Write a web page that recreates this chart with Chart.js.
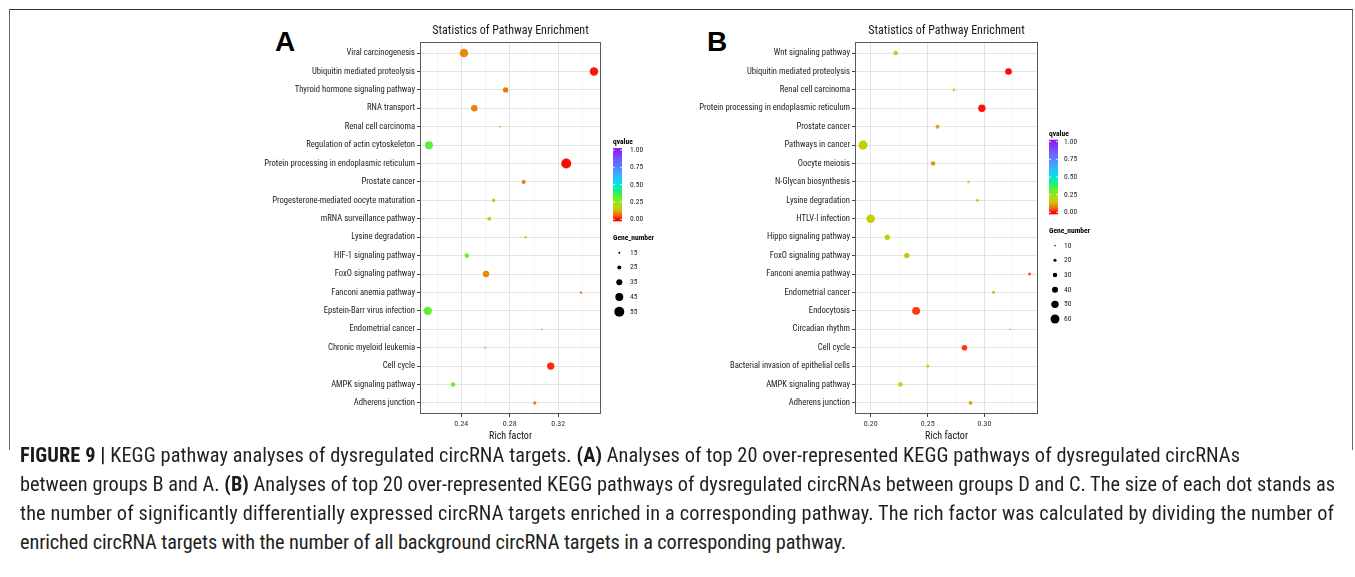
<!DOCTYPE html>
<html><head><meta charset="utf-8">
<script src="https://cdn.jsdelivr.net/npm/chart.js@4.4.1/dist/chart.umd.min.js"></script>
<style>
html,body{margin:0;padding:0;background:#fff;width:1355px;height:577px;overflow:hidden;}
#frame{position:absolute;left:9px;top:9px;width:1342px;height:440px;border:1px solid #666;border-top-color:#333;border-bottom:none;}
.cv{position:absolute;}
.panel{position:absolute;font-family:'Liberation Sans',Arial,sans-serif;font-weight:bold;font-size:28px;color:#000;line-height:1;}
#caption{position:absolute;left:20px;top:0;font-family:'Liberation Sans Narrow','Roboto Condensed','Liberation Sans',sans-serif;font-size:20px;color:#231f20;}
#caption .line{position:absolute;left:0;white-space:nowrap;line-height:1;}
#caption b{color:#1a1a1a;}
</style>
</head><body>
<div id="frame"></div>
<div class="panel" style="left:275px;top:28px;">A</div>
<div class="panel" style="left:707px;top:28px;">B</div>
<canvas id="cA" class="cv" width="440" height="432" style="left:255px;top:14px;width:440px;height:432px;"></canvas>
<canvas id="cB" class="cv" width="443" height="432" style="left:697px;top:14px;width:443px;height:432px;"></canvas>
<div id="caption">
<div class="line" data-w="1220" style="top:445px"><b>FIGURE 9 |</b> KEGG pathway analyses of dysregulated circRNA targets. <b>(A)</b> Analyses of top 20 over-represented KEGG pathways of dysregulated circRNAs</div>
<div class="line" data-w="1315" style="top:474px">between groups B and A. <b>(B)</b> Analyses of top 20 over-represented KEGG pathways of dysregulated circRNAs between groups D and C. The size of each dot stands as</div>
<div class="line" data-w="1313" style="top:503px">the number of significantly differentially expressed circRNA targets enriched in a corresponding pathway. The rich factor was calculated by dividing the number of</div>
<div class="line" data-w="826" style="top:532px">enriched circRNA targets with the number of all background circRNA targets in a corresponding pathway.</div>
</div>
<script>
// ---------------- DATA ----------------
const pathwaysA = ["Viral carcinogenesis","Ubiquitin mediated proteolysis","Thyroid hormone signaling pathway","RNA transport","Renal cell carcinoma","Regulation of actin cytoskeleton","Protein processing in endoplasmic reticulum","Prostate cancer","Progesterone-mediated oocyte maturation","mRNA surveillance pathway","Lysine degradation","HIF-1 signaling pathway","FoxO signaling pathway","Fanconi anemia pathway","Epstein-Barr virus infection","Endometrial cancer","Chronic myeloid leukemia","Cell cycle","AMPK signaling pathway","Adherens junction"];
const richA = [0.2422,0.3495,0.2766,0.2507,0.2719,0.2133,0.3266,0.2915,0.2667,0.2631,0.2931,0.2445,0.2604,0.3388,0.2123,0.3068,0.2596,0.3138,0.2332,0.3006];
const genesA = [48,47,32,38,15,45,55,25,23,25,17,28,37,17,47,14,16,42,28,22];
const qvalA = [0.09,0.01,0.075,0.085,0.28,0.33,0.005,0.075,0.24,0.24,0.28,0.30,0.085,0.075,0.32,0.25,0.30,0.02,0.30,0.085];
const xTicksA = [0.24,0.28,0.32];
const sizeKeysA = [15,25,35,45,55];

const pathwaysB = ["Wnt signaling pathway","Ubiquitin mediated proteolysis","Renal cell carcinoma","Protein processing in endoplasmic reticulum","Prostate cancer","Pathways in cancer","Oocyte meiosis","N-Glycan biosynthesis","Lysine degradation","HTLV-I infection","Hippo signaling pathway","FoxO signaling pathway","Fanconi anemia pathway","Endometrial cancer","Endocytosis","Circadian rhythm","Cell cycle","Bacterial invasion of epithelial cells","AMPK signaling pathway","Adherens junction"];
const richB = [0.2220,0.3211,0.2731,0.2977,0.2587,0.1932,0.2548,0.2859,0.2938,0.2000,0.2146,0.2317,0.3396,0.3079,0.2399,0.3226,0.2824,0.2502,0.2261,0.2877];
const genesB = [31,45,17,50,27,62,31,16,17,58,36,36,20,18,54,11,38,20,31,25];
const qvalB = [0.20,0.005,0.18,0.01,0.12,0.16,0.10,0.17,0.12,0.16,0.18,0.14,0.05,0.11,0.03,0.20,0.03,0.18,0.18,0.11];
const xTicksB = [0.20,0.25,0.30];
const sizeKeysB = [10,20,30,40,50,60];

const qKeys = [1.00,0.75,0.50,0.25,0.00];
const qStops = [[0,'#ff0000'],[0.03,'#ff3a10'],[0.06,'#f26a10'],[0.09,'#e88a0c'],[0.12,'#d8ae10'],[0.16,'#c4d000'],[0.22,'#a8dc20'],[0.30,'#70f020'],[0.40,'#20f070'],[0.50,'#00e8e0'],[0.62,'#30b8ff'],[0.75,'#5a80ff'],[0.88,'#7452ff'],[1,'#8a1ef0']];

// ---------------- HELPERS ----------------
function hex(c){return [parseInt(c.slice(1,3),16),parseInt(c.slice(3,5),16),parseInt(c.slice(5,7),16)];}
function qColor(q){
  for(let i=1;i<qStops.length;i++){
    if(q<=qStops[i][0]){
      const [q0,c0]=qStops[i-1],[q1,c1]=qStops[i];
      const t=(q-q0)/(q1-q0), a=hex(c0), b=hex(c1);
      return 'rgb('+a.map((v,k)=>Math.round(v+(b[k]-v)*t)).join(',')+')';
    }
  }
  return qStops[qStops.length-1][1];
}
const FONT="'Liberation Sans Narrow','Roboto Condensed','Liberation Sans',Arial,sans-serif";

function makePanel(id, o){
  const radius = n => o.r0 + (n - o.n0) * (o.r1 - o.r0) / (o.n1 - o.n0);
  const isMajor = v => o.majors.some(m => Math.abs(m - v) < 1e-6);
  const labelsPlugin = {
    id: 'deco',
    afterDraw(chart){
      const ctx = chart.ctx, a = chart.chartArea;
      ctx.save();
      ctx.strokeStyle = '#5a5a5a'; ctx.lineWidth = 1;
      ctx.strokeRect(Math.round(a.left)+0.5, Math.round(a.top)+0.5, Math.round(a.right-a.left)-1, Math.round(a.bottom-a.top)-1);
      ctx.fillStyle = '#1a1a1a';
      ctx.font = '12px ' + FONT;
      ctx.textAlign = 'center'; ctx.textBaseline = 'middle';
      ctx.fillText('Statistics of Pathway Enrichment', (a.left + a.right)/2, a.top - 11);
      const L = o.legend;
      ctx.textAlign = 'left';
      ctx.font = 'bold 7.5px ' + FONT;
      ctx.fillStyle = '#000';
      ctx.fillText('qvalue', L.x, L.qTitleY);
      const g = ctx.createLinearGradient(0, L.barBottom, 0, L.barTop);
      qStops.forEach(s => g.addColorStop(s[0], s[1]));
      ctx.fillStyle = g;
      ctx.fillRect(L.x, L.barTop - 2, L.barW, L.barBottom - L.barTop + 4);
      ctx.font = '7.5px ' + FONT;
      qKeys.forEach(q => {
        const y = L.barBottom + (L.barTop - L.barBottom) * q;
        ctx.strokeStyle = '#fff'; ctx.lineWidth = 0.8;
        ctx.beginPath(); ctx.moveTo(L.x, y); ctx.lineTo(L.x + 2, y);
        ctx.moveTo(L.x + L.barW - 2, y); ctx.lineTo(L.x + L.barW, y); ctx.stroke();
        ctx.fillStyle = '#1a1a1a';
        ctx.fillText(q.toFixed(2), L.textX, y);
      });
      ctx.font = 'bold 7.5px ' + FONT;
      ctx.fillStyle = '#000';
      ctx.fillText('Gene_number', L.x, L.sTitleY);
      ctx.font = '7.5px ' + FONT;
      o.sizeKeys.forEach((n, i) => {
        const y = L.sFirstY + i * L.sStep;
        ctx.fillStyle = '#000';
        ctx.beginPath(); ctx.arc(L.dotX, y, radius(n), 0, Math.PI*2); ctx.fill();
        ctx.fillStyle = '#1a1a1a';
        ctx.fillText(String(n), L.textX, y);
      });
      ctx.restore();
    }
  };
  return new Chart(document.getElementById(id), {
    type: 'scatter',
    data: { datasets: [{
      data: o.rich.map((x, i) => ({x: x, y: i})),
      pointRadius: c => radius(o.genes[c.dataIndex]),
      pointHoverRadius: c => radius(o.genes[c.dataIndex]),
      backgroundColor: c => qColor(o.q[c.dataIndex]),
      borderWidth: 0
    }]},
    options: {
      responsive: false, animation: false, devicePixelRatio: 1,
      events: [],
      layout: { padding: { left: 0, right: o.padRight, top: 28, bottom: 0 } },
      plugins: { legend: { display: false }, tooltip: { enabled: false } },
      scales: {
        x: {
          type: 'linear', min: o.xmin, max: o.xmax,
          afterFit: s => { s.height = 32; },
          border: { display: false },
          grid: {
            color: c => isMajor(c.tick.value) ? '#e3e3e3' : '#f1f1f1',
            lineWidth: c => isMajor(c.tick.value) ? 1 : 0.7,
            tickColor: c => isMajor(c.tick.value) ? '#444' : 'rgba(0,0,0,0)',
            tickLength: 3, drawTicks: true
          },
          ticks: {
            stepSize: o.minorStep, includeBounds: false, autoSkip: false, maxRotation: 0,
            padding: 2, color: '#333', font: { family: FONT, size: 8 },
            callback: v => isMajor(v) ? v.toFixed(2) : ''
          },
          title: { display: true, text: 'Rich factor', color: '#111', font: { family: FONT, size: 10 }, padding: { top: 0, bottom: 4 } }
        },
        y: {
          type: 'linear', min: -0.6, max: o.rich.length - 0.4, reverse: true,
          afterFit: s => { s.width = o.yWidth; },
          border: { display: false },
          grid: { color: '#e3e3e3', lineWidth: 1, tickColor: '#444', tickLength: 3 },
          ticks: {
            stepSize: 1, includeBounds: false, autoSkip: false, padding: 2,
            color: '#222', font: { family: FONT, size: 8.6 },
            callback: v => Number.isInteger(v) ? o.labels[v] : ''
          }
        }
      }
    },
    plugins: [labelsPlugin]
  });
}

makePanel('cA', {
  labels: pathwaysA, rich: richA, genes: genesA, q: qvalA, sizeKeys: sizeKeysA,
  majors: xTicksA, minorStep: 0.02, xmin: 0.2059, xmax: 0.3553,
  r0: 1.0, n0: 15, r1: 5.0, n1: 55,
  yWidth: 165, padRight: 94,
  legend: { x: 358, barW: 9, barTop: 136, barBottom: 205.3, textX: 375, qTitleY: 127.7,
            sTitleY: 224.3, sFirstY: 238.7, sStep: 14.75, dotX: 364.3 }
});
makePanel('cB', {
  labels: pathwaysB, rich: richB, genes: genesB, q: qvalB, sizeKeys: sizeKeysB,
  majors: xTicksB, minorStep: 0.025, xmin: 0.1862, xmax: 0.3470,
  r0: 0.78, n0: 10, r1: 4.43, n1: 60,
  yWidth: 158, padRight: 102,
  legend: { x: 352, barW: 9, barTop: 127.7, barBottom: 198.3, textX: 367, qTitleY: 120,
            sTitleY: 216.7, sFirstY: 231.7, sStep: 14.66, dotX: 358 }
});

// fit caption: common font size from line 2, then per-line letter spacing to reference widths
const lines = document.querySelectorAll('#caption .line');
const w = lines[1].getBoundingClientRect().width;
document.getElementById('caption').style.fontSize = (20 * 1315 / w) + 'px';
lines.forEach(el => {
  const target = +el.dataset.w;
  const cur = el.getBoundingClientRect().width;
  const n = el.textContent.length;
  el.style.letterSpacing = ((target - cur) / n) + 'px';
});
</script>
</body></html>
